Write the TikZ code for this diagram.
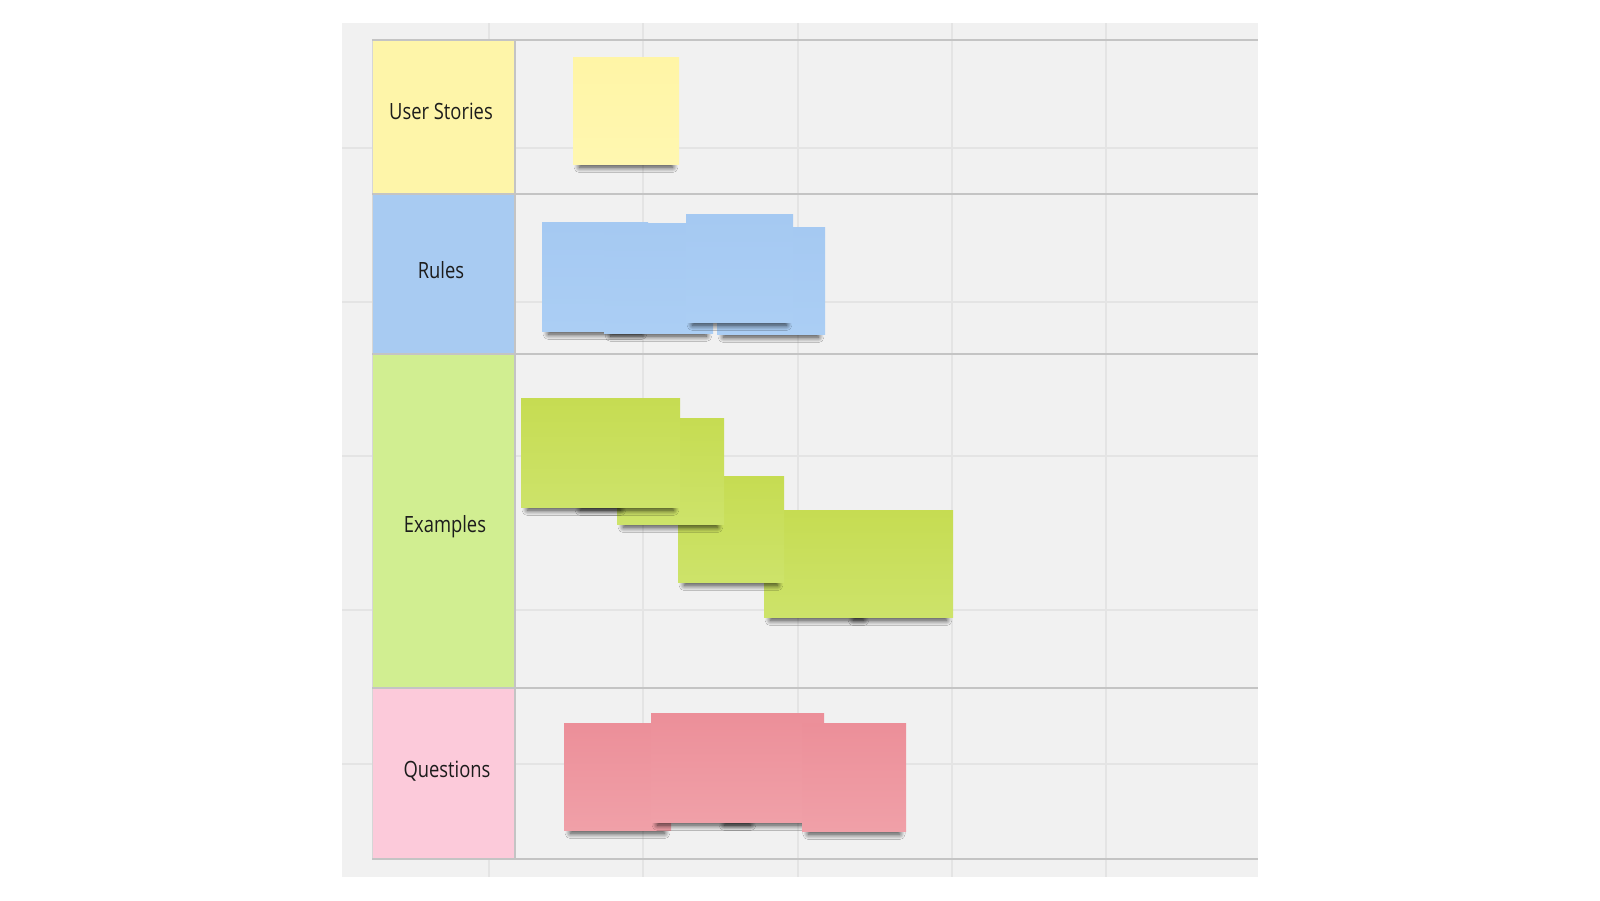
\documentclass[tikz,border=0pt]{standalone}
\usepackage{fontspec}
\newfontfamily\labelfont{Open Sans}[FakeStretch=0.82]
\usetikzlibrary{shadows.blur}
\definecolor{boardbg}{HTML}{F1F1F1}
\definecolor{gridfaint}{HTML}{E4E4E4}
\definecolor{gridstrong}{HTML}{C4C4C4}
\definecolor{labyellow}{HTML}{FEF5A9}
\definecolor{labblue}{HTML}{A8CBF2}
\definecolor{labgreen}{HTML}{D1EE91}
\definecolor{labpink}{HTML}{FCCADA}
\definecolor{yeltop}{HTML}{FFF5A6}
\definecolor{yelbot}{HTML}{FFF7B0}
\definecolor{bluetop}{HTML}{A5C9F2}
\definecolor{bluebot}{HTML}{ABCEF4}
\definecolor{greentop}{HTML}{C6DC52}
\definecolor{greenbot}{HTML}{CDE36A}
\definecolor{pinktop}{HTML}{EC8F99}
\definecolor{pinkbot}{HTML}{F0A0A8}
\definecolor{textdark}{HTML}{1C1C1C}
\tikzset{
  note/.style={inner sep=0pt, outer sep=0pt, draw=none,
    blur shadow={shadow xshift=0pt, shadow yshift=-11pt, shadow scale=0.88,
      shadow blur radius=6pt, shadow blur steps=14, shadow opacity=75}},
  ynote/.style={note, top color=yeltop, bottom color=yelbot},
  bnote/.style={note, top color=bluetop, bottom color=bluebot},
  gnote/.style={note, top color=greentop, bottom color=greenbot},
  pnote/.style={note, top color=pinktop, bottom color=pinkbot},
  faint/.style={draw=gridfaint, line width=1.4pt},
  strong/.style={draw=gridstrong, line width=1.6pt},
  lab/.style={anchor=base, text=textdark, inner sep=0pt,
    font=\labelfont\fontsize{22.4}{27}\selectfont},
}
\begin{document}
\begin{tikzpicture}[x=1pt,y=-1pt]
\useasboundingbox[fill=white] (0,0) rectangle (1600,900);
% board
\fill[boardbg] (342,23) rectangle (1258,877);
% faint grid
\foreach \gx in {489,643,798,952,1106} \draw[faint] (\gx,23) -- (\gx,877);
\foreach \gy in {148,302,456,610,764} \draw[faint] (342,\gy) -- (1258,\gy);
% label cells
\fill[labyellow] (372,40) rectangle (515,194);
\fill[labblue] (372,194) rectangle (515,354);
\fill[labgreen] (372,354) rectangle (515,688);
\fill[labpink] (372,688) rectangle (515,859);
\draw[draw=gridstrong!70, line width=1pt] (372,40) -- (372,859);
% strong row lines
\foreach \gy in {40,194,354,688,859} \draw[strong] (372,\gy) -- (1258,\gy);
\draw[strong] (515,40) -- (515,859);
% labels
\node[lab] (lus) at (441,119) {User Stories};
\node[lab] (lru) at (441,278) {Rules};
\node[lab] (lex) at (445,532) {Examples};
\node[lab] (lqu) at (447,777) {Questions};
% yellow
\node[ynote, minimum width=106pt, minimum height=107pt] (y1) at (626,110.5) {};
% blue
\node[bnote, minimum width=106pt, minimum height=109pt] (b1) at (595,276.5) {};
\node[bnote, minimum width=109pt, minimum height=110pt] (b2) at (658.5,278) {};
\node[bnote, minimum width=108pt, minimum height=107pt] (b4) at (771,280.5) {};
\node[bnote, minimum width=107pt, minimum height=108pt] (b3) at (739.5,268) {};
% green
\node[gnote, minimum width=106pt, minimum height=107pt] (g5) at (900,563.5) {};
\node[gnote, minimum width=106pt, minimum height=107pt] (g4) at (817,563.5) {};
\node[gnote, minimum width=106pt, minimum height=106pt] (g3) at (731,529) {};
\node[gnote, minimum width=107pt, minimum height=106pt] (g2) at (670.5,471) {};
\node[gnote, minimum width=106pt, minimum height=109pt] (g1b) at (627,452.5) {};
\node[gnote, minimum width=106pt, minimum height=109pt] (g1a) at (574,452.5) {};
% pink
\node[pnote, minimum width=107pt, minimum height=107pt] (p1) at (617.5,776.5) {};
\node[pnote, minimum width=106pt, minimum height=109pt] (p2) at (704,767.5) {};
\node[pnote, minimum width=106pt, minimum height=109pt] (p3) at (771,767.5) {};
\node[pnote, minimum width=104pt, minimum height=108pt] (p4) at (854,777) {};
\end{tikzpicture}
\end{document}
